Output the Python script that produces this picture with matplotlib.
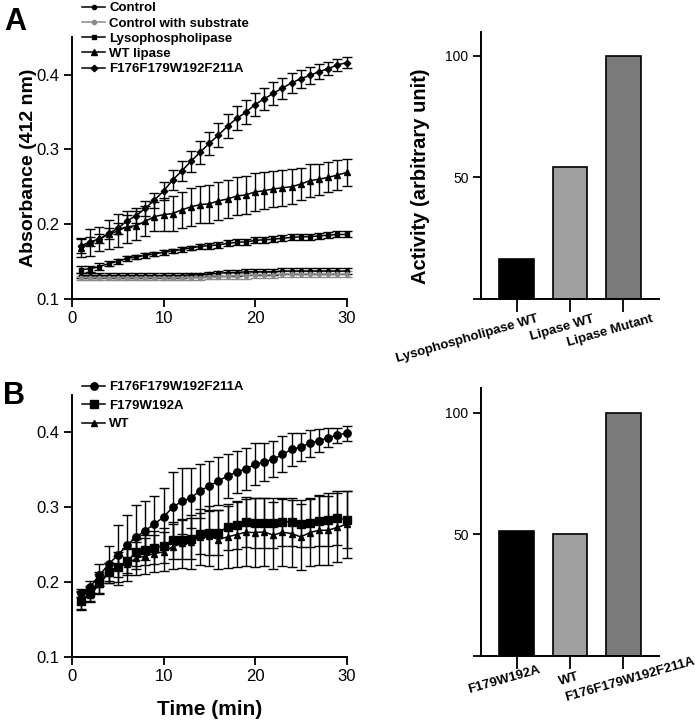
import matplotlib
matplotlib.use("Agg")
import matplotlib.pyplot as plt
import matplotlib.transforms as mtrans

plt.rcParams['font.family'] = ['Liberation Sans', 'DejaVu Sans']

# ---- data ----
time = list(range(1, 31))

# panel A, absorbance at 412 nm
a_control = [0.131, 0.131, 0.131, 0.131, 0.131, 0.131, 0.131, 0.131, 0.131, 0.131,
             0.131, 0.131, 0.132, 0.132, 0.133, 0.134, 0.135, 0.135, 0.136, 0.136,
             0.136, 0.136, 0.137, 0.137, 0.137, 0.137, 0.137, 0.137, 0.137, 0.137]
a_ctrl_sub = [0.128, 0.128, 0.128, 0.128, 0.128, 0.128, 0.128, 0.128, 0.128, 0.128,
              0.128, 0.128, 0.128, 0.128, 0.129, 0.129, 0.130, 0.131, 0.131, 0.132,
              0.132, 0.132, 0.133, 0.133, 0.133, 0.133, 0.133, 0.133, 0.133, 0.133]
a_ctrl_err = [0.003, 0.003, 0.003, 0.003, 0.003, 0.003, 0.003, 0.003, 0.003, 0.003,
              0.003, 0.003, 0.003, 0.003, 0.003, 0.003, 0.004, 0.004, 0.004, 0.004,
              0.004, 0.004, 0.004, 0.004, 0.004, 0.004, 0.004, 0.004, 0.004, 0.004]
a_lyso = [0.139, 0.140, 0.143, 0.147, 0.150, 0.154, 0.156, 0.158, 0.160, 0.162,
          0.164, 0.166, 0.168, 0.170, 0.171, 0.172, 0.174, 0.1755, 0.176, 0.178,
          0.179, 0.1795, 0.181, 0.182, 0.183, 0.183, 0.184, 0.185, 0.186, 0.186]
a_lyso_err = [0.005, 0.004, 0.005, 0.003, 0.003, 0.003, 0.003, 0.003, 0.003, 0.003,
              0.003, 0.003, 0.003, 0.003, 0.004, 0.004, 0.004, 0.004, 0.004, 0.004,
              0.004, 0.004, 0.004, 0.004, 0.004, 0.004, 0.004, 0.004, 0.004, 0.004]
a_wt = [0.1675, 0.1755, 0.180, 0.186, 0.191, 0.196, 0.198, 0.2035, 0.210, 0.2125,
        0.214, 0.219, 0.223, 0.226, 0.227, 0.231, 0.2335, 0.2375, 0.239, 0.243,
        0.2445, 0.247, 0.2485, 0.250, 0.2535, 0.258, 0.260, 0.2625, 0.2655, 0.269]
a_wt_err = [0.012, 0.018, 0.016, 0.020, 0.022, 0.022, 0.020, 0.020, 0.020, 0.022,
            0.024, 0.024, 0.025, 0.025, 0.025, 0.025, 0.025, 0.025, 0.025, 0.025,
            0.025, 0.024, 0.024, 0.023, 0.022, 0.022, 0.021, 0.020, 0.020, 0.018]
a_mut = [0.171, 0.176, 0.180, 0.1875, 0.194, 0.204, 0.211, 0.221, 0.232, 0.244,
         0.259, 0.271, 0.284, 0.296, 0.308, 0.319, 0.331, 0.3415, 0.3495, 0.360,
         0.3675, 0.375, 0.382, 0.389, 0.3945, 0.399, 0.404, 0.408, 0.413, 0.416]
a_mut_err = [0.010, 0.006, 0.006, 0.007, 0.007, 0.008, 0.010, 0.010, 0.010, 0.012,
             0.013, 0.014, 0.014, 0.015, 0.015, 0.016, 0.016, 0.016, 0.016, 0.015,
             0.015, 0.015, 0.014, 0.013, 0.012, 0.011, 0.010, 0.009, 0.008, 0.007]

# panel B
b_mut = [0.185, 0.1935, 0.209, 0.2237, 0.2358, 0.249, 0.2598, 0.2687, 0.2773, 0.2869,
         0.2998, 0.3079, 0.3123, 0.3221, 0.3283, 0.335, 0.3417, 0.347, 0.351, 0.3573,
         0.3604, 0.364, 0.3706, 0.3773, 0.3804, 0.3857, 0.3889, 0.3929, 0.3964, 0.399]
b_mut_err = [0.005, 0.008, 0.015, 0.025, 0.040, 0.040, 0.043, 0.040, 0.037, 0.039,
             0.047, 0.044, 0.040, 0.036, 0.033, 0.032, 0.030, 0.028, 0.028, 0.028,
             0.026, 0.024, 0.024, 0.022, 0.019, 0.018, 0.015, 0.013, 0.010, 0.010]
b_f179 = [0.1745, 0.1846, 0.199, 0.2135, 0.2202, 0.2275, 0.2395, 0.2425, 0.2455, 0.2485,
          0.2558, 0.2565, 0.258, 0.2647, 0.2656, 0.2656, 0.2736, 0.2767, 0.2803, 0.2789,
          0.2789, 0.2789, 0.2803, 0.2803, 0.2781, 0.2794, 0.2816, 0.2834, 0.2856, 0.2834]
b_f179_err = [0.012, 0.010, 0.014, 0.012, 0.014, 0.016, 0.018, 0.020, 0.022, 0.023,
              0.025, 0.026, 0.027, 0.028, 0.030, 0.030, 0.031, 0.032, 0.033, 0.033,
              0.033, 0.033, 0.032, 0.032, 0.032, 0.033, 0.034, 0.035, 0.036, 0.038]
b_wt = [0.176, 0.183, 0.197, 0.212, 0.220, 0.2235, 0.2318, 0.2345, 0.238, 0.2402,
        0.2469, 0.2514, 0.2536, 0.2602, 0.2611, 0.2567, 0.2602, 0.2634, 0.2665, 0.266,
        0.2669, 0.2625, 0.2665, 0.2647, 0.2602, 0.266, 0.2691, 0.2691, 0.273, 0.277]
b_wt_err = [0.012, 0.010, 0.013, 0.013, 0.020, 0.022, 0.022, 0.024, 0.025, 0.026,
            0.030, 0.033, 0.036, 0.038, 0.040, 0.040, 0.042, 0.044, 0.045, 0.046,
            0.046, 0.045, 0.045, 0.045, 0.044, 0.045, 0.046, 0.046, 0.046, 0.045]

# bar charts (activity, arbitrary unit)
bar_a_labels = ['Lysophospholipase WT', 'Lipase WT', 'Lipase Mutant']
bar_a_vals = [16.2, 54.4, 100]
bar_b_labels = ['F179W192A', 'WT', 'F176F179W192F211A']
bar_b_vals = [51.2, 50, 100]
bar_colors = ['black', '#a0a0a0', '#7a7a7a']

W, H = 697, 723
fig = plt.figure(figsize=(W / 100, H / 100), dpi=100)


def px_axes(l, t, r, b):
    return fig.add_axes([l / W, 1 - b / H, (r - l) / W, (b - t) / H])


def style(ax, fs):
    for s in ['top', 'right']:
        ax.spines[s].set_visible(False)
    for s in ['left', 'bottom']:
        ax.spines[s].set_linewidth(1.4)
    ax.tick_params(direction='out', length=6, width=1.3, labelsize=fs, pad=3)


def series(ax, y, err, marker, ms, label, color='black'):
    ax.errorbar(time, y, yerr=err, fmt='none', ecolor=color, elinewidth=1,
                capsize=3.5, capthick=1, clip_on=False, zorder=2)
    ln, = ax.plot(time, y, color=color, lw=1.1, marker=marker, ms=ms,
                  mfc=color, mec=color, label=label, clip_on=False, zorder=3)
    return ln


# ---- panel A line chart ----
axA = px_axes(72, 37.3, 346.5, 298.7)
style(axA, 12)
hA = [series(axA, a_control, a_ctrl_err, 'o', 3, 'Control'),
      series(axA, a_ctrl_sub, a_ctrl_err, 'o', 3, 'Control with substrate', '#8a8a8a'),
      series(axA, a_lyso, a_lyso_err, 's', 3.3, 'Lysophospholipase'),
      series(axA, a_wt, a_wt_err, '^', 4.5, 'WT lipase'),
      series(axA, a_mut, a_mut_err, 'D', 3.3, 'F176F179W192F211A')]
axA.set_xlim(0, 30)
axA.set_ylim(0.1, 0.45)
axA.set_xticks([0, 10, 20, 30])
axA.set_yticks([0.1, 0.2, 0.3, 0.4])
axA.set_ylabel('Absorbance (412 nm)', fontsize=14, fontweight='bold')
axA.yaxis.set_label_coords(-0.128, 0.5)
fig.legend(handles=hA, loc='upper left', bbox_to_anchor=(82 / W, 1 - 2 / H),
           frameon=False, borderpad=0, borderaxespad=0, handlelength=1.75,
           handletextpad=0.3, labelspacing=0.23,
           prop={'size': 9.5, 'weight': 'bold'})

# ---- panel B line chart ----
axB = px_axes(72, 395, 346.5, 656.7)
style(axB, 12)
hB = [series(axB, b_mut, b_mut_err, 'o', 5.3, 'F176F179W192F211A'),
      series(axB, b_f179, b_f179_err, 's', 5.3, 'F179W192A'),
      series(axB, b_wt, b_wt_err, '^', 5, 'WT')]
axB.set_xlim(0, 30)
axB.set_ylim(0.1, 0.45)
axB.set_xticks([0, 10, 20, 30])
axB.set_yticks([0.1, 0.2, 0.3, 0.4])
axB.set_xlabel('Time (min)', fontsize=15, fontweight='bold')
axB.xaxis.set_label_coords(0.5, -0.165)
fig.legend(handles=hB, loc='upper left', bbox_to_anchor=(82 / W, 1 - 381 / H),
           frameon=False, borderpad=0, borderaxespad=0, handlelength=1.75,
           handletextpad=0.3, labelspacing=0.48,
           prop={'size': 9.5, 'weight': 'bold'})


# ---- bar charts ----
def bars(ax, labels, vals, ha, offsets, pad):
    style(ax, 10)
    ax.tick_params(axis='x', length=9, pad=pad)
    pos = list(range(len(vals)))
    ax.bar(pos, vals, width=0.65, color=bar_colors, edgecolor='black', linewidth=1.2)
    ax.set_xlim(-0.67, 2.67)
    ax.set_ylim(0, 110)
    ax.set_yticks([0, 50, 100])
    ax.set_yticklabels(['', '50', '100'])
    ax.set_xticks(pos)
    ax.set_xticklabels(labels, rotation=16, rotation_mode='anchor', ha=ha,
                       va='top', fontsize=9.5, fontweight='bold')
    for lab, dx in zip(ax.get_xticklabels(), offsets):
        lab.set_transform(lab.get_transform() +
                          mtrans.ScaledTranslation(dx / 100, 0, fig.dpi_scale_trans))


barA = px_axes(481, 31.7, 659, 298.6)
bars(barA, bar_a_labels, bar_a_vals, 'right', [20, 22, 28], 1.5)
barA.set_ylabel('Activity (arbitrary unit)', fontsize=14.5, fontweight='bold')
barA.yaxis.set_label_coords(-0.287, 0.46)

barB = px_axes(481, 388.3, 659, 655.7)
bars(barB, bar_b_labels, bar_b_vals, 'center', [-14, -3, 5], 4)

# panel letters
fig.text(4 / W, 1 - 7 / H, 'A', fontsize=22, fontweight='bold', va='top')
fig.text(3 / W, 1 - 381 / H, 'B', fontsize=22, fontweight='bold', va='top')

fig.savefig('out.png', dpi=100)
